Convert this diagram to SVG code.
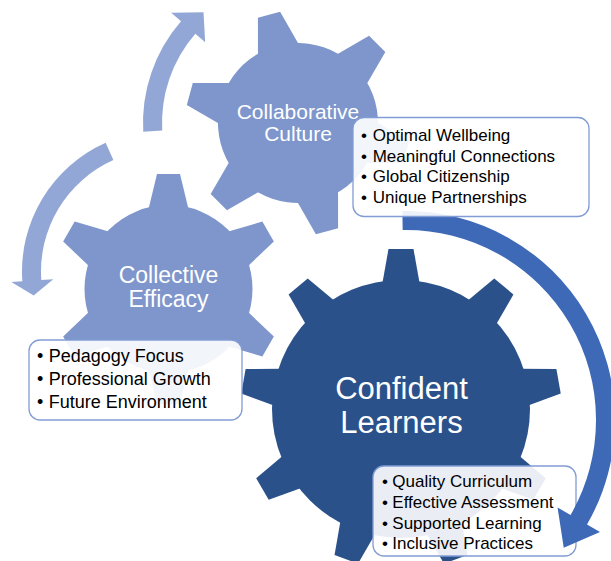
<svg xmlns="http://www.w3.org/2000/svg" xmlns:xlink="http://www.w3.org/1999/xlink" width="611" height="561" viewBox="0 0 611 561">
<style>
.g-light{fill:#7E96CB}
.g-dark{fill:#2B518A}
.arr-light{fill:#93A7D6}
.arr-dark{fill:#3D69B7}
.box{fill:#FFFFFF;fill-opacity:0.9;stroke:#819CD5;stroke-width:1.3}
.lbl{font-family:"Liberation Sans",Arial,sans-serif;fill:#FFFFFF;text-anchor:middle}
.item{font-family:"Liberation Sans",Arial,sans-serif;fill:#000000;font-size:17px}
</style>
<defs>
<polygon id="t6a" points="-21.6,-74 -11.5,-112 11.5,-112 21.6,-74"/>
<polygon id="t6b" points="-20.45,-78 -11.5,-115 11.5,-115 20.45,-78"/>
<polygon id="t9" points="-19.1,-123 -12.5,-160 12.5,-160 19.1,-123"/>
</defs>

<g id="gear-collaborative-culture">
  <g class="g-light" transform="translate(298,123) rotate(-15)">
    <circle r="80"/>
    <use href="#t6a"/>
    <use href="#t6a" transform="rotate(60)"/>
    <use href="#t6a" transform="rotate(120)"/>
    <use href="#t6a" transform="rotate(180)"/>
    <use href="#t6a" transform="rotate(240)"/>
    <use href="#t6a" transform="rotate(300)"/>
  </g>
  <text class="lbl" font-size="21" x="298" y="119">Collaborative</text>
  <text class="lbl" font-size="21" x="298" y="141">Culture</text>
</g>

<g id="gear-collective-efficacy">
  <g class="g-light" transform="translate(168.5,289)">
    <circle r="84"/>
    <use href="#t6b"/>
    <use href="#t6b" transform="rotate(60)"/>
    <use href="#t6b" transform="rotate(120)"/>
    <use href="#t6b" transform="rotate(180)"/>
    <use href="#t6b" transform="rotate(240)"/>
    <use href="#t6b" transform="rotate(300)"/>
  </g>
  <text class="lbl" font-size="23" x="168.5" y="283">Collective</text>
  <text class="lbl" font-size="23" x="168.5" y="307">Efficacy</text>
</g>

<g id="gear-confident-learners">
  <g class="g-dark" transform="translate(401,409)">
    <circle r="129"/>
    <use href="#t9"/>
    <use href="#t9" transform="rotate(40)"/>
    <use href="#t9" transform="rotate(80)"/>
    <use href="#t9" transform="rotate(120)"/>
    <use href="#t9" transform="rotate(160)"/>
    <use href="#t9" transform="rotate(200)"/>
    <use href="#t9" transform="rotate(240)"/>
    <use href="#t9" transform="rotate(280)"/>
    <use href="#t9" transform="rotate(320)"/>
  </g>
  <text class="lbl" font-size="31" x="401.5" y="399">Confident</text>
  <text class="lbl" font-size="31" x="401.5" y="432.5">Learners</text>
</g>

<g id="box-efficacy">
  <rect class="box" x="29" y="340" width="213" height="80" rx="11"/>
  <text class="item" style="font-size:18px" x="37" y="362">•<tspan x="48.7">Pedagogy Focus</tspan></text>
  <text class="item" style="font-size:18px" x="37" y="385">•<tspan x="48.7">Professional Growth</tspan></text>
  <text class="item" style="font-size:18px" x="37" y="408">•<tspan x="48.7">Future Environment</tspan></text>
</g>

<g id="box-learners">
  <rect class="box" x="373" y="466" width="203" height="90" rx="11"/>
  <text class="item" x="382" y="487.3">•<tspan x="392.3">Quality Curriculum</tspan></text>
  <text class="item" x="382" y="507.9">•<tspan x="392.3">Effective Assessment</tspan></text>
  <text class="item" x="382" y="528.6">•<tspan x="392.3">Supported Learning</tspan></text>
  <text class="item" x="382" y="549.3">•<tspan x="392.3">Inclusive Practices</tspan></text>
</g>

<g id="connectors">
  <path id="arrow-top" class="arr-light" d="M143.24,131.65 A155,155 0 0 1 181.02,21.31 L171.21,12.78 L203.51,12.36 L205.17,42.30 L195.36,33.78 A136,136 0 0 0 162.21,130.59 Z"/>
  <path id="arrow-left" class="arr-light" d="M105.65,142.69 A141,141 0 0 0 22.34,281.34 L11.37,282.10 L33.70,295.46 L53.27,279.17 L41.30,280.01 A122,122 0 0 1 113.38,160.05 Z"/>
  <path id="arrow-right" class="arr-dark" d="M402.35,211.03 A209,209 0 0 1 587.0,524.5 L599.99,532 L563.76,547.75 L557.55,507.5 L570.55,515 A190,190 0 0 0 402.68,230.03 Z"/>
</g>

<g id="box-culture">
  <rect class="box" x="353" y="117.5" width="236" height="99" rx="11"/>
  <text class="item" x="361" y="141">•<tspan x="372.7">Optimal Wellbeing</tspan></text>
  <text class="item" x="361" y="161.7">•<tspan x="372.7">Meaningful Connections</tspan></text>
  <text class="item" x="361" y="182.3">•<tspan x="372.7">Global Citizenship</tspan></text>
  <text class="item" x="361" y="203">•<tspan x="372.7">Unique Partnerships</tspan></text>
</g>
</svg>
